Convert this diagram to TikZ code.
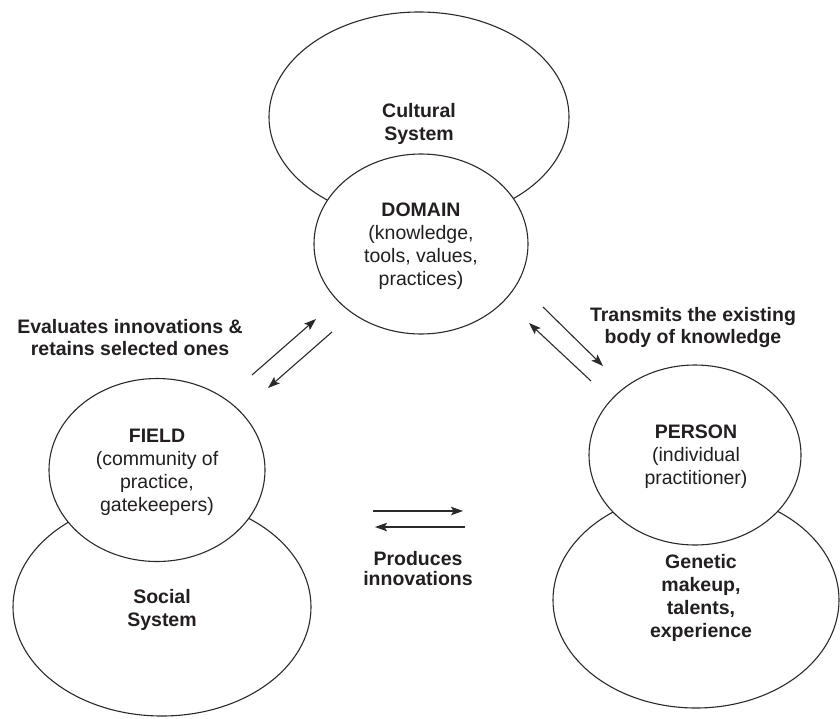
\documentclass[tikz,border=0pt]{standalone}
\usepackage{fontspec}
\setmainfont{Liberation Sans}
\usetikzlibrary{shapes.geometric,arrows.meta}
\definecolor{txt}{HTML}{231F20}
\definecolor{ln}{HTML}{2A2A2A}
\begin{document}
\begin{tikzpicture}[x=1pt,y=-1pt,
  sys/.style={ellipse,draw=ln,line width=1.1pt,inner sep=0pt,fill=white},
  lbl/.style={align=center,text=txt,inner sep=0pt,font=\fontsize{19.5}{23}\selectfont},
  blbl/.style={lbl,font=\fontsize{19.5}{23}\selectfont\bfseries},
  arr/.style={draw=ln,line width=1.1pt,-{Stealth[length=12pt,width=8.5pt,inset=2.5pt]}}]
\useasboundingbox (0,0) rectangle (840,718);
% outer systems
\node[sys,minimum width=300pt,minimum height=210pt] (cult) at (419,117) {};
\node[sys,minimum width=298pt,minimum height=218pt] (soc) at (162,607) {};
\node[sys,minimum width=286pt,minimum height=216pt] (gen) at (696,600) {};
% inner circles
\node[sys,minimum width=214pt,minimum height=180pt] (dom) at (421,244) {};
\node[sys,minimum width=216pt,minimum height=183pt] (field) at (157,470) {};
\node[sys,minimum width=212pt,minimum height=180pt] (pers) at (695,455) {};
% texts
\node[blbl] (cultt) at (419,124) {Cultural\\System};
\node[lbl] (domt) at (421,246) {\textbf{DOMAIN}\\(knowledge,\\tools, values,\\practices)};
\node[lbl] (fieldt) at (157,472) {\textbf{FIELD}\\(community of\\practice,\\gatekeepers)};
\node[lbl] (perst) at (696,457) {\textbf{PERSON}\\(individual\\practitioner)};
\node[blbl] (soct) at (162,610) {Social\\System};
\node[blbl] (gent) at (701,598) {Genetic\\makeup,\\talents,\\experience};
\node[blbl,font=\fontsize{19.5}{22}\selectfont\bfseries] (evalt) at (130,338) {Evaluates innovations \&\\retains selected ones};
\node[blbl,font=\fontsize{19.5}{22}\selectfont\bfseries] (transt) at (693,327) {Transmits the existing\\body of knowledge};
\node[blbl,font=\fontsize{19.5}{20}\selectfont\bfseries] (prodt) at (418,569) {Produces\\innovations};
% arrow end points
\coordinate (a1s) at (252,375); \coordinate (a1e) at (316,319);
\coordinate (a2s) at (332,332); \coordinate (a2e) at (268,388);
\coordinate (b1s) at (543,307); \coordinate (b1e) at (603,366);
\coordinate (b2s) at (591,381); \coordinate (b2e) at (529,323);
\coordinate (c1s) at (373,511); \coordinate (c1e) at (463,511);
\coordinate (c2s) at (465,527); \coordinate (c2e) at (375,527);
\draw[arr] (a1s) -- (a1e);
\draw[arr] (a2s) -- (a2e);
\draw[arr] (b1s) -- (b1e);
\draw[arr] (b2s) -- (b2e);
\draw[arr] (c1s) -- (c1e);
\draw[arr] (c2s) -- (c2e);
\end{tikzpicture}
\end{document}
